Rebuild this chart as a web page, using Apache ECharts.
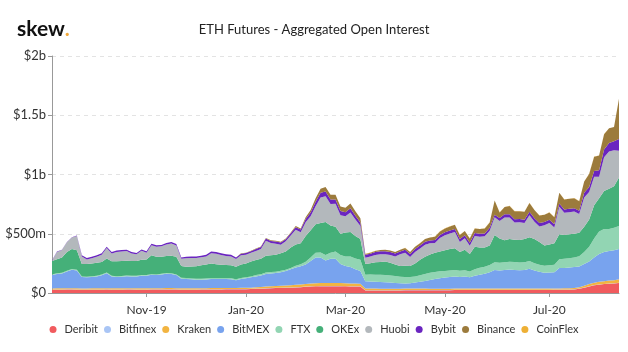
<!DOCTYPE html>
<html>
<head>
<meta charset="utf-8">
<script src="https://cdn.jsdelivr.net/npm/echarts@6/dist/echarts.min.js"></script>
<style>
  html, body { margin: 0; padding: 0; background: #fff; }
  #main { width: 628px; height: 352px; }
</style>
</head>
<body>
<div id="main"></div>
<script>
// one point every 3 days, starting 2019-09-06
var startDate = '2019-09-06';
var stepDays = 3;

var deribit = [27,28,28,29,29,28,27,27,28,28,28,29,28,28,28,29,29,28,28,28,29,29,29,30,30,29,28,28,28,28,
  29,29,30,30,30,31,31,31,32,32,33,35,36,38,40,42,43,44,45,47,48,
  52,55,56,57,58,58,58,57,56,55,55,54,
  22,22,22,22,22,22,22,22,
  24,24,24,24,24,24,24,24,24,24,
  26,26,26,26,26,26,26,26,26,26,26,26,26,26,26,26,26,26,26,26,
  27,27,28,28,30,35,45,55,65,70,75,78,80,85];
var bitfinex = [2,2,2,2,2,2,2,2,2,2,2,2,2,2,2,2,2,2,2,2,2,2,2,2,2,2,2,2,2,2,
  2,2,2,2,2,2,2,2,2,2,2,2,2,2,2,2,2,2,2,2,2,
  2,2,2,2,2,2,2,2,2,2,2,2,
  2,2,2,2,2,2,2,2,2,2,2,2,2,2,2,2,2,2,2,2,2,2,2,2,2,2,2,2,
  2,2,2,2,2,2,2,2,2,2,2,2,2,2,2,2,2,2,2,2,2,2,2,2];
var kraken = [10,10,10,10,10,10,10,10,10,10,10,10,10,10,10,10,10,10,10,10,10,10,10,10,10,10,10,10,10,10,
  10,10,10,10,10,10,10,10,10,10,10,12,13,14,15,16,17,18,19,20,21,
  22,23,24,25,25,25,25,25,24,24,23,23,
  15,14,13,12,12,12,12,12,12,12,12,12,12,
  10,10,10,10,10,10,10,10,10,10,10,10,10,10,10,10,10,10,10,10,10,10,10,10,10,
  10,10,10,10,11,12,15,18,20,22,23,25,26,28];
var bitmex = [112,120,125,140,155,150,95,93,95,100,110,125,100,95,98,100,98,100,105,105,112,110,115,120,118,110,80,78,75,72,
  71,73,76,76,76,75,73,65,74,81,87,91,96,106,108,108,113,121,134,146,154,
  165,190,218,216,190,205,205,161,145,139,120,106,
  61,60,58,56,54,52,49,46,42,44,50,57,64,74,82,89,94,99,102,97,102,94,107,117,124,137,157,152,
  157,160,157,154,157,167,152,142,132,134,136,171,172,175,177,175,183,190,213,236,245,250,252,257];
var ftx = [6,6,6,6,6,6,6,6,6,6,6,6,6,6,6,6,6,6,6,6,6,6,6,6,6,6,
  8,8,8,8,8,8,8,8,8,8,8,8,8,8,8,
  12,12,12,12,12,12,12,12,16,18,
  22,30,40,42,45,50,60,75,82,88,92,95,
  55,58,60,62,62,60,58,56,55,52,52,55,58,60,60,58,56,55,55,52,52,50,55,58,60,62,65,65,
  65,66,66,65,65,66,62,58,60,62,64,75,76,78,80,86,100,125,160,190,195,185,190,193];
var okex = [112,119,129,159,169,164,104,106,109,109,106,119,122,127,126,126,124,124,129,131,160,149,144,144,148,149,100,96,101,105,
  115,118,122,116,112,110,111,106,114,117,125,126,131,143,141,142,149,153,173,179,177,
  217,230,240,248,280,230,210,180,201,207,188,175,
  90,96,105,108,113,107,97,90,95,94,110,130,145,155,162,167,174,182,183,158,173,148,190,172,163,163,230,205,
  185,191,189,191,195,199,203,192,170,176,181,210,202,202,200,198,215,230,280,280,320,340,350,410];
var huobi = [2,62,62,82,97,122,63,39,43,51,61,88,65,78,80,81,65,56,76,58,85,85,88,98,104,95,60,71,72,70,
  66,68,88,89,83,77,73,64,78,73,74,76,81,126,103,94,72,86,101,123,93,
  117,118,152,215,217,182,194,156,137,165,140,110,
  52,55,60,65,63,66,68,98,110,76,97,95,103,94,82,115,128,130,137,85,97,69,92,90,93,125,150,147,
  192,182,144,148,136,187,147,132,172,180,132,232,187,187,187,159,245,232,240,180,285,315,305,225];
var bybit = [3,3,3,3,3,3,
  12,12,12,12,12,12,12,12,12,12,12,12,12,12,12,12,12,12,12,12,12,12,12,12,
  14,14,14,14,14,14,14,14,14,14,14,
  18,18,18,18,18,18,18,18,22,22,
  28,32,38,40,40,38,36,36,35,35,32,30,
  25,25,25,25,25,25,25,25,25,25,25,25,25,25,25,25,25,25,25,25,25,25,25,25,25,25,20,25,
  28,28,28,28,28,28,28,28,28,28,28,28,28,28,28,28,
  40,43,50,55,65,70,75,100];
var binance = [0,0,0,0,0,0,0,0,0,0,0,0,0,0,0,0,0,0,0,0,0,0,0,0,0,0,0,0,0,0,0,0,0,0,0,0,0,0,
  3,3,3,3,3,6,6,6,6,6,6,10,10,
  15,20,30,35,38,40,40,38,38,40,38,35,
  8,8,10,10,12,12,12,14,15,16,18,20,22,24,28,30,32,35,35,35,36,36,38,40,42,45,120,48,
  60,70,68,66,66,75,70,65,60,62,60,90,85,85,85,80,95,110,120,125,130,125,120,340];
var coinflex = [0,0,0,0,0,0,0,0,0,0,0,0,0,0,0,0,0,0,0,0,0,0,0,0,0,0,0,0,0,0,0,0,0,0,0,0,0,0,0,0,
  0,0,0,0,0,0,0,0,0,0,0,0,0,0,0,0,0,0,0,0,0,0,0,
  1,1,1,1,1,1,1,1,1,1,1,1,1,1,1,1,1,1,1,1,1,1,1,1,1,1,
  1,1,1,1,1,1,1,1,1,1,1,1,1,1,1,1,1,1,1,1,1,1,1,1,1,1];

var seriesNames = ['Deribit', 'Bitfinex', 'Kraken', 'BitMEX', 'FTX', 'OKEx', 'Huobi', 'Bybit', 'Binance', 'CoinFlex'];
var seriesData = [deribit, bitfinex, kraken, bitmex, ftx, okex, huobi, bybit, binance, coinflex];
var seriesColors = ['#f15b5e', '#a9c5f5', '#f2b441', '#78a3ee', '#92d5b3', '#45b079', '#b3b8bc', '#6a25c0', '#9c7b3c', '#eeb035'];

var yTicks = ['$0', '$500m', '$1b', '$1.5b', '$2b'];
var monthNames = ['Jan', 'Feb', 'Mar', 'Apr', 'May', 'Jun', 'Jul', 'Aug', 'Sep', 'Oct', 'Nov', 'Dec'];

// category dates
var dates = [];
var d0 = new Date(startDate + 'T00:00:00Z');
for (var i = 0; i < deribit.length; i++) {
  var d = new Date(d0.getTime() + i * stepDays * 86400000);
  dates.push(d.toISOString().slice(0, 10));
}

// label the point nearest to the 1st of every odd month (Nov, Jan, Mar ...)
function isLabelDate(str) {
  var d = new Date(str + 'T00:00:00Z');
  var next = new Date(d.getTime() + 86400000);
  var m = -1;
  if (d.getUTCDate() <= 2) m = d.getUTCMonth();
  else if (next.getUTCDate() === 1) m = next.getUTCMonth();
  return m >= 0 && m % 2 === 0;
}
function labelOf(str) {
  var d = new Date(str + 'T00:00:00Z');
  if (d.getUTCDate() > 2) d = new Date(d.getTime() + 86400000);
  return monthNames[d.getUTCMonth()] + '-' + String(d.getUTCFullYear()).slice(2);
}

var chart = echarts.init(document.getElementById('main'));

var series = seriesNames.map(function (name, k) {
  return {
    name: name,
    type: 'line',
    stack: 'oi',
    data: seriesData[k],
    showSymbol: false,
    symbol: 'none',
    lineStyle: { width: 0 },
    areaStyle: { color: seriesColors[k], opacity: 1 },
    itemStyle: { color: seriesColors[k] }
  };
});

chart.setOption({
  animation: false,
  textStyle: { fontFamily: 'Lato' },
  title: [
    {
      text: '{a|skew}{b|.}',
      left: 12,
      top: 14,
      textStyle: {
        rich: {
          a: { fontSize: 21, fontWeight: 'bold', color: '#111', fontFamily: 'Lato' },
          b: { fontSize: 21, fontWeight: 'bold', color: '#f2a93b', fontFamily: 'Lato' }
        }
      }
    },
    {
      text: 'ETH Futures - Aggregated Open Interest',
      left: 'center',
      top: 18,
      textStyle: { fontSize: 13, fontWeight: 'normal', color: '#222', fontFamily: 'Lato' }
    }
  ],
  legend: {
    data: seriesNames,
    bottom: 12,
    left: 'center',
    icon: 'circle',
    itemWidth: 7,
    itemHeight: 7,
    itemGap: 6,
    textStyle: { fontSize: 11, color: '#333', fontFamily: 'Lato', padding: [0, 0, 0, 3] }
  },
  grid: { left: 52, right: 9, top: 56, bottom: 59 },
  xAxis: {
    type: 'category',
    data: dates,
    boundaryGap: false,
    axisLine: { lineStyle: { color: '#999' } },
    axisTick: {
      interval: function (idx, val) { return isLabelDate(val); },
      length: 4,
      lineStyle: { color: '#999' }
    },
    axisLabel: {
      interval: function (idx, val) { return isLabelDate(val); },
      formatter: function (val) { return labelOf(val); },
      color: '#333',
      fontSize: 12,
      margin: 11
    }
  },
  yAxis: {
    type: 'value',
    min: 0,
    max: 2000,
    interval: 500,
    axisLine: { show: true, lineStyle: { color: '#999' } },
    axisTick: { show: true, length: 4, lineStyle: { color: '#999' } },
    axisLabel: {
      color: '#333',
      fontSize: 13,
      margin: 6,
      formatter: function (v) { return yTicks[v / 500]; }
    },
    splitLine: { lineStyle: { color: '#e3e3e3', type: [4, 4] } }
  },
  series: series
});
</script>
</body>
</html>
